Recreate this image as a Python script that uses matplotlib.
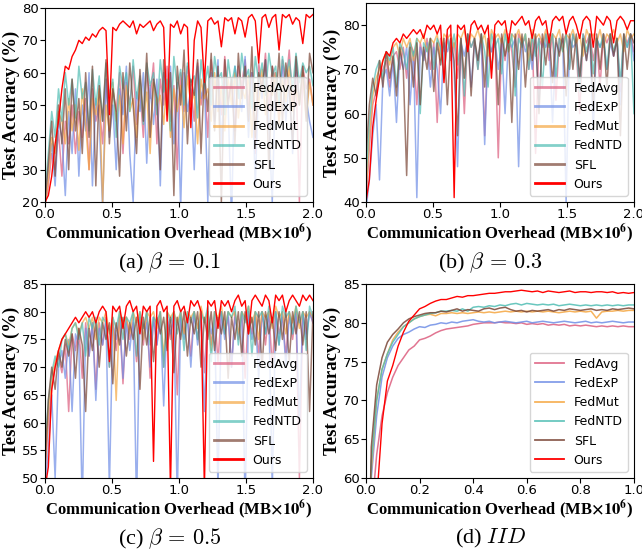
import numpy as np
import matplotlib
matplotlib.use('Agg')
from matplotlib import pyplot as plt

labels = ['FedAvg', 'FedExP', 'FedMut', 'FedNTD', 'SFL', 'Ours']
colors = ['#dc5d7e', '#6f8ee6', '#f5a640', '#4fbdb3', '#7a4535', '#ff0000']

# (a) beta = 0.1
a_fedavg = [18, 25, 35, 30, 42, 28, 45, 38, 50, 35, 48, 40, 52, 30, 55, 45, 50, 38, 58, 42, 55, 48, 60, 35, 57, 50, 62, 44, 55, 40,
            60, 52, 63, 38, 58, 50, 62, 45, 56, 30, 60, 48, 62, 55, 45, 63, 50, 58, 40, 64, 55, 60, 47, 65, 52, 58, 42, 62, 56, 64,
            50, 60, 35, 63, 55, 66, 48, 62, 58, 45, 64, 56, 67, 50, 60, 20, 62, 55, 58, 50]
a_fedexp = [20, 30, 38, 25, 45, 40, 22, 48, 35, 55, 28, 50, 42, 60, 25, 52, 45, 18, 58, 40, 50, 30, 55, 47, 62, 35, 20, 54, 48, 60,
            32, 56, 44, 58, 25, 60, 50, 62, 38, 57, 18, 60, 48, 55, 30, 62, 52, 58, 20, 60, 45, 64, 38, 58, 50, 15, 62, 55, 48, 65,
            40, 60, 25, 58, 52, 64, 44, 20, 60, 55, 62, 45, 58, 35, 64, 50, 60, 52, 45, 40]
a_fedmut = [19, 27, 40, 35, 48, 45, 38, 52, 42, 50, 36, 55, 44, 30, 52, 47, 55, 20, 50, 42, 57, 45, 53, 38, 56, 48, 52, 40, 58, 46,
            54, 35, 57, 50, 53, 44, 58, 40, 55, 48, 56, 43, 59, 50, 54, 38, 58, 52, 55, 45, 60, 48, 56, 42, 58, 50, 60, 46, 55, 52,
            59, 40, 57, 50, 61, 47, 56, 53, 60, 44, 58, 51, 62, 48, 55, 50, 60, 46, 57, 50]
a_fedntd = [22, 35, 48, 40, 55, 45, 60, 50, 58, 46, 62, 52, 57, 42, 61, 50, 59, 45, 63, 53, 58, 40, 62, 55, 60, 48, 64, 52, 59, 44,
            63, 56, 60, 47, 64, 54, 58, 42, 65, 55, 61, 50, 63, 57, 59, 46, 64, 55, 62, 50, 65, 58, 60, 47, 64, 56, 62, 52, 66, 58,
            61, 49, 65, 57, 63, 53, 66, 59, 62, 50, 65, 58, 64, 55, 66, 57, 63, 60, 62, 56]
a_sfl = [20, 32, 45, 28, 50, 38, 55, 30, 58, 42, 52, 35, 60, 40, 62, 25, 56, 45, 64, 38, 55, 48, 28, 60, 42, 63, 50, 35, 61, 45,
         66, 40, 58, 52, 30, 64, 47, 60, 22, 62, 50, 67, 38, 58, 53, 64, 35, 60, 48, 66, 42, 62, 20, 64, 50, 58, 38, 66, 52, 62,
         45, 68, 40, 60, 55, 64, 30, 62, 50, 66, 45, 63, 55, 38, 65, 50, 62, 45, 66, 60]
a_ours = [20, 22, 28, 38, 45, 55, 62, 61, 65, 67, 70, 69, 71, 70, 72, 71, 73, 74, 73, 47, 74, 73, 75, 76, 75, 74, 76, 72, 75, 74,
          75, 76, 73, 75, 76, 74, 45, 75, 74, 76, 72, 75, 74, 43, 70, 76, 74, 57, 76, 77, 75, 76, 68, 77, 76, 77, 72, 77, 76, 71,
          77, 78, 76, 63, 77, 78, 74, 77, 78, 67, 78, 77, 78, 75, 77, 76, 69, 78, 77, 78]

# (b) beta = 0.3
b_fedavg = [40, 52, 62, 65, 68, 70, 72, 66, 73, 74, 70, 75, 68, 76, 74, 62, 76, 72, 77, 70, 76, 58, 77, 74, 78, 72, 76, 68, 77, 60,
            78, 75, 77, 70, 78, 55, 77, 74, 78, 50, 77, 72, 78, 74, 66, 78, 76, 77, 70, 78, 51, 77, 75, 78, 72, 78, 63, 77, 76, 78,
            70, 78, 75, 60, 78, 76, 78, 72, 77, 66, 78, 76, 78, 73, 77, 65, 78, 76, 78, 74]
b_fedexp = [38, 45, 55, 62, 45, 68, 70, 64, 72, 58, 74, 70, 75, 62, 74, 41, 75, 72, 76, 66, 75, 70, 60, 76, 74, 77, 70, 48, 76, 73,
            77, 66, 76, 72, 77, 53, 76, 74, 77, 70, 76, 60, 77, 75, 77, 48, 77, 74, 76, 70, 77, 62, 77, 75, 77, 58, 76, 74, 77, 40,
            77, 75, 76, 68, 77, 72, 77, 56, 77, 75, 77, 70, 76, 73, 77, 62, 77, 75, 78, 72]
b_fedmut = [42, 55, 64, 68, 70, 72, 74, 71, 75, 76, 73, 77, 75, 77, 72, 77, 76, 78, 74, 77, 76, 78, 72, 78, 77, 78, 75, 78, 77, 79,
            74, 78, 77, 79, 76, 78, 73, 79, 77, 78, 76, 79, 74, 78, 77, 79, 76, 78, 72, 79, 77, 78, 76, 79, 75, 78, 77, 79, 74, 78,
            77, 79, 76, 78, 73, 79, 77, 78, 76, 79, 75, 78, 77, 79, 76, 78, 74, 79, 77, 78]
b_fedntd = [45, 58, 66, 70, 72, 68, 74, 72, 75, 66, 76, 74, 70, 76, 73, 77, 60, 76, 74, 77, 70, 77, 75, 68, 77, 74, 78, 71, 77, 64,
            78, 75, 77, 70, 78, 74, 66, 78, 75, 77, 69, 78, 74, 78, 64, 77, 75, 78, 70, 78, 73, 77, 66, 78, 75, 78, 68, 77, 74, 78,
            70, 78, 75, 65, 78, 74, 78, 69, 77, 75, 78, 70, 78, 74, 77, 67, 78, 75, 78, 60]
b_sfl = [50, 62, 68, 64, 72, 66, 74, 68, 73, 64, 75, 70, 46, 75, 66, 76, 62, 75, 70, 77, 65, 76, 71, 77, 62, 77, 72, 55, 77, 68,
         78, 64, 77, 72, 78, 66, 77, 70, 78, 62, 78, 73, 77, 58, 78, 70, 78, 66, 77, 72, 78, 60, 78, 71, 78, 67, 77, 73, 78, 64,
         78, 70, 78, 68, 77, 72, 78, 62, 78, 70, 78, 66, 78, 73, 77, 55, 78, 70, 78, 76]
b_ours = [40, 45, 57, 63, 68, 72, 74, 73, 76, 77, 76, 78, 77, 78, 79, 78, 79, 77, 80, 79, 80, 78, 80, 67, 79, 80, 41, 80, 79, 80,
          74, 80, 81, 79, 80, 78, 80, 68, 80, 81, 80, 81, 76, 81, 80, 81, 82, 80, 81, 77, 81, 82, 80, 81, 76, 81, 82, 81, 82, 78,
          81, 82, 80, 77, 81, 82, 81, 75, 82, 81, 80, 82, 81, 76, 81, 82, 81, 79, 81, 81]

# (c) beta = 0.5
c_fedavg = [50, 60, 66, 70, 72, 69, 74, 62, 76, 73, 77, 68, 78, 72, 78, 66, 78, 74, 79, 70, 78, 73, 79, 67, 79, 75, 78, 71, 79, 74,
            80, 68, 79, 74, 80, 70, 79, 75, 80, 65, 80, 76, 79, 72, 80, 75, 80, 69, 80, 74, 80, 71, 80, 76, 79, 70, 80, 75, 80, 68,
            80, 76, 80, 72, 80, 74, 80, 70, 80, 76, 79, 72, 80, 75, 80, 50, 80, 76, 80, 78]
c_fedexp = [48, 55, 65, 50, 70, 73, 68, 75, 62, 76, 74, 45, 77, 72, 78, 64, 77, 74, 78, 48, 78, 75, 79, 68, 78, 73, 79, 45, 79, 75,
            78, 70, 79, 74, 79, 63, 79, 76, 79, 46, 79, 75, 79, 70, 80, 74, 79, 62, 80, 76, 79, 48, 80, 75, 80, 70, 79, 76, 80, 45,
            80, 75, 79, 68, 80, 76, 80, 48, 80, 74, 80, 70, 79, 76, 80, 60, 80, 75, 80, 78]
c_fedmut = [52, 62, 68, 71, 73, 75, 76, 74, 77, 78, 76, 78, 79, 77, 79, 75, 79, 78, 80, 76, 79, 64, 80, 78, 79, 76, 80, 78, 80, 75,
            80, 79, 80, 77, 80, 72, 80, 79, 80, 78, 80, 76, 80, 79, 80, 77, 81, 78, 80, 73, 80, 79, 81, 77, 80, 79, 80, 76, 80, 79,
            81, 78, 80, 75, 80, 79, 80, 77, 81, 79, 80, 76, 80, 78, 81, 77, 80, 79, 80, 79]
c_fedntd = [55, 64, 69, 72, 70, 75, 76, 73, 77, 78, 75, 78, 72, 79, 77, 79, 74, 79, 78, 70, 79, 77, 80, 75, 79, 78, 80, 72, 80, 77,
            80, 74, 79, 78, 80, 70, 80, 78, 80, 76, 80, 73, 80, 78, 80, 75, 80, 78, 81, 71, 80, 78, 80, 76, 80, 79, 81, 74, 80, 78,
            81, 72, 80, 79, 80, 76, 81, 78, 80, 74, 81, 79, 80, 76, 81, 78, 80, 73, 81, 79]
c_sfl = [52, 64, 70, 66, 73, 70, 75, 72, 76, 68, 77, 74, 62, 77, 73, 78, 70, 78, 75, 78, 67, 78, 74, 79, 72, 78, 75, 79, 66, 79,
         74, 79, 71, 79, 76, 79, 73, 79, 69, 79, 75, 80, 72, 79, 76, 80, 70, 79, 75, 80, 73, 79, 76, 80, 68, 79, 75, 80, 72, 80,
         76, 79, 74, 80, 70, 80, 76, 79, 73, 80, 75, 80, 71, 80, 76, 80, 74, 80, 62, 80]
c_ours = [48, 52, 66, 70, 73, 75, 76, 77, 78, 79, 78, 79, 80, 79, 80, 78, 80, 81, 80, 71, 81, 80, 81, 77, 81, 82, 80, 81, 76, 81,
          80, 81, 53, 81, 82, 80, 81, 48, 81, 82, 80, 81, 78, 82, 81, 82, 80, 48, 82, 81, 82, 77, 82, 81, 82, 80, 82, 83, 81, 82,
          76, 82, 83, 82, 81, 83, 82, 78, 83, 82, 83, 80, 82, 83, 82, 81, 83, 82, 83, 82]

# (d) IID
d_fedavg = [30, 55, 63, 68, 71, 73, 74.5, 75.5, 76.5, 77, 77.8, 78, 78.3, 78.7, 79, 79.2, 79.3, 79.4, 79.5, 79.6, 79.8, 79.9, 80, 80, 80, 80.1,
            80, 80, 79.9, 80, 79.8, 79.9, 79.8, 79.9, 79.7, 79.8, 79.7, 79.8, 79.6, 79.7, 79.6, 79.7, 79.6, 79.5, 79.6, 79.5, 79.6, 79.5, 79.6, 79.5, 79.5]
d_fedexp = [30, 60, 68, 73, 75.5, 77, 78, 78.5, 78.8, 79.2, 79.5, 79.4, 79.7, 79.8, 80, 79.9, 80.1, 80, 80.2, 80.3, 80.4, 80.2, 80.1, 80.2, 80, 80.1,
            80.2, 80.1, 80, 80.1, 80.2, 80, 80.1, 80.2, 80.1, 80, 80.1, 80.2, 80.1, 80, 80.1, 80.2, 80, 80.1, 80, 80.1, 80.2, 80.1, 80, 80.1, 80.1]
d_fedmut = [30, 61, 70, 74, 76, 77.8, 78.8, 79.5, 80, 80.5, 80.8, 81, 81.1, 80.9, 81.2, 81.2, 81.3, 81.2, 81.3, 81.2, 81.3, 81.4, 81.3, 81.4, 81.3, 81.4,
            81.5, 81.4, 81.5, 81.4, 81.5, 81.4, 81.5, 81.4, 81.5, 81.4, 81.3, 81.4, 81.5, 81.4, 81.5, 81.4, 81.5, 80.6, 81.4, 81.5, 81.5, 81.6, 81.5, 81.6, 81.6]
d_fedntd = [30, 62, 70, 74, 76, 77.5, 78.5, 79.5, 80, 80.5, 80.8, 81, 81.2, 81.3, 81.5, 81.5, 81.6, 81.5, 81.8, 81.5, 82, 82.1, 82, 82.2, 82.1, 82.3,
            82.2, 82.4, 82.5, 82.3, 82.5, 82.4, 82.3, 82.4, 82.3, 82.4, 82.2, 82.3, 82.4, 82.3, 82.2, 82.3, 82.2, 82.3, 82.2, 82.3, 82.2, 82.3, 82.2, 82.3, 82.3]
d_sfl = [30, 64, 72, 75.5, 77.5, 78.5, 79.2, 80, 80.5, 80.8, 81, 81.2, 81.3, 81.3, 81.5, 81.4, 81.6, 81.8, 81.5, 81.7, 81.6, 81.5, 81.8, 81.9, 81.7, 81.9,
         82, 81.7, 81.5, 81.6, 81.4, 81.6, 81.5, 81.6, 81.7, 81.5, 81.7, 81.6, 81.8, 81.7, 81.6, 81.7, 81.8, 81.6, 81.7, 81.6, 81.8, 81.7, 81.8, 81.9, 81.8]
d_ours = [30, 45, 57, 67, 72.5, 74.5, 77, 78.8, 80.2, 81, 81.8, 82.1, 82.5, 82.8, 83, 83, 83.2, 83.4, 83.3, 83.5, 83.5, 83.6, 83.7, 83.8, 83.8, 83.9,
          84, 84, 84.1, 84.2, 84.1, 84, 84.1, 83.9, 84.1, 84, 83.9, 84, 84.1, 83.9, 84, 84, 83.9, 84, 84, 83.9, 84, 83.8, 83.9, 83.8, 83.9]

panels = [
    ([a_fedavg, a_fedexp, a_fedmut, a_fedntd, a_sfl, a_ours], 2.0, (20, 80), np.arange(20, 81, 10), np.arange(0, 2.01, 0.5), r'(a) $\beta\,=\,0.1$'),
    ([b_fedavg, b_fedexp, b_fedmut, b_fedntd, b_sfl, b_ours], 2.0, (40, 85), np.arange(40, 81, 10), np.arange(0, 2.01, 0.5), r'(b) $\beta\,=\,0.3$'),
    ([c_fedavg, c_fedexp, c_fedmut, c_fedntd, c_sfl, c_ours], 2.0, (50, 85), np.arange(50, 86, 5), np.arange(0, 2.01, 0.5), r'(c) $\beta\,=\,0.5$'),
    ([d_fedavg, d_fedexp, d_fedmut, d_fedntd, d_sfl, d_ours], 1.0, (60, 85), np.arange(60, 86, 5), np.arange(0, 1.01, 0.2), r'(d) $IID$'),
]

# axes boxes in figure fractions [left, bottom, width, height]
boxes = [[0.070, 0.634, 0.4175, 0.3515],
         [0.570, 0.634, 0.4175, 0.3605],
         [0.070, 0.134, 0.4175, 0.3515],
         [0.570, 0.134, 0.4175, 0.3515]]
cap_y = [0.525, 0.525, 0.025, 0.025]

fig = plt.figure(figsize=(6.42, 5.52), dpi=100)

for k, (series, xmax, ylim, yt, xt, cap) in enumerate(panels):
    ax = fig.add_axes(boxes[k])
    noisy = k < 3
    for vals, lab, col in zip(series, labels, colors):
        x = np.linspace(0, xmax, len(vals))
        if lab == 'Ours':
            ax.plot(x, vals, color=col, lw=1.0, label=lab)
        else:
            ax.plot(x, vals, color=col, lw=1.1, alpha=0.7 if noisy else 0.85, label=lab)
    ax.set_xlim(0, xmax)
    ax.set_ylim(*ylim)
    ax.set_xticks(xt)
    ax.set_yticks(yt)
    ax.tick_params(labelsize=9.5, pad=1)
    ax.set_xlabel(r'Communication Overhead (MB$\mathbf{\times 10^{6}}$)', family='Liberation Serif',
                  fontweight='bold', fontsize=12, labelpad=0, math_fontfamily='stix')
    ax.set_ylabel('Test Accuracy (%)', family='Liberation Serif', fontweight='bold', fontsize=13.5, labelpad=1)
    leg = ax.legend(loc='lower right', fontsize=9, framealpha=0.8, handlelength=2.3, handletextpad=0.8,
                    labelspacing=0.5, borderpad=0.4)
    for ln in leg.get_lines():
        ln.set_linewidth(2.0 if noisy else 1.3)
    b = boxes[k]
    fig.text(b[0] + b[2] / 2 - 0.015, cap_y[k], cap, ha='center', va='center', fontsize=16,
             family='Liberation Serif', math_fontfamily='cm')

plt.savefig('out.png', dpi=100)
